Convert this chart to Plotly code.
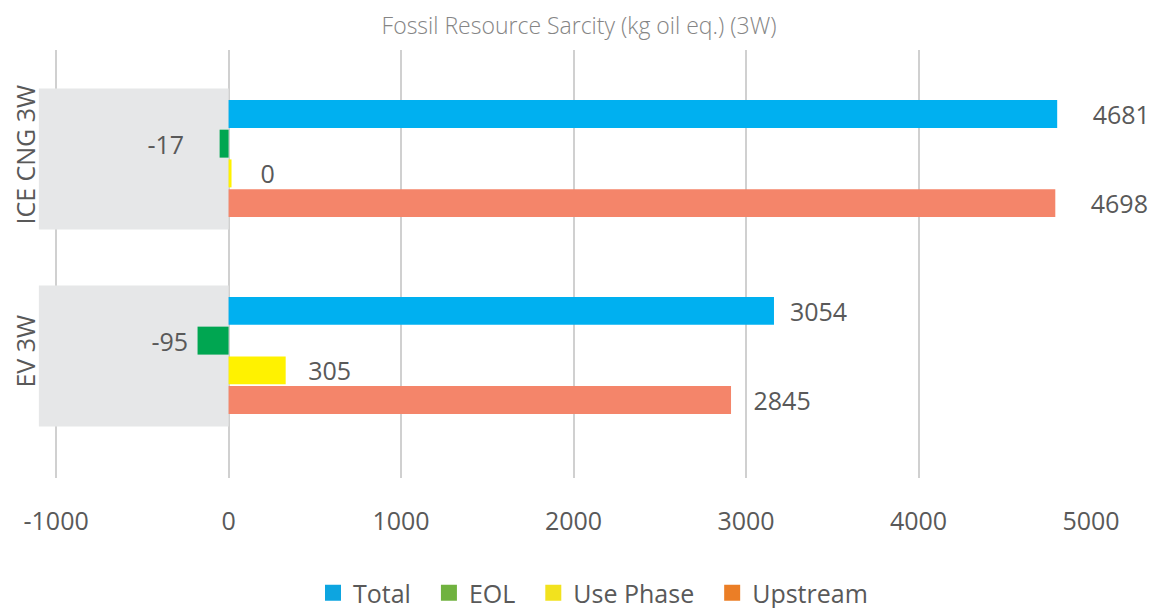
import plotly.graph_objects as go

# ---- data ----
categories = ["EV 3W", "ICE CNG 3W"]          # bottom -> top
series = ["Total", "EOL", "Use Phase", "Upstream"]
# bar lengths as drawn in the picture (kg oil eq.)
total_vals = [3162, 4804]
eol_vals = [-180, -52]
use_vals = [331, 17]
upstream_vals = [2913, 4793]
# data labels as printed on the picture
total_labels = ["3054", "4681"]
eol_labels = ["-95", "-17"]
use_labels = ["305", "0"]
upstream_labels = ["2845", "4698"]
x_ticks = [-1000, 0, 1000, 2000, 3000, 4000, 5000]

bar_colors = {"Total": "#00B0F0", "EOL": "#00A651", "Use Phase": "#FFF200", "Upstream": "#F4856A"}
legend_colors = {"Total": "#0DA5E0", "EOL": "#70B23F", "Use Phase": "#F2E21E", "Upstream": "#EB7E26"}
values = {"Total": total_vals, "EOL": eol_vals, "Use Phase": use_vals, "Upstream": upstream_vals}
labels = {"Total": total_labels, "EOL": eol_labels, "Use Phase": use_labels, "Upstream": upstream_labels}
# label padding (non-breaking spaces) per bar, per category
pads = {"Total": [2, 5], "EOL": [1, 5], "Use Phase": [3, 4], "Upstream": [3, 5]}

NB = "\u00a0"
FONT = "Open Sans, Segoe UI, Arial, sans-serif"
TXT = "#595959"

# the page body adds an 8px offset; layout values below compensate for it
W, H = 1164, 608
OFF = 8
L, R, T, B = 38 - OFF, 73 + OFF, 50 - OFF, 130 + OFF
PLOT_W = W - L - R

fig = go.Figure()

# grey band behind each category on the negative side
for i, _ in enumerate(categories):
    fig.add_shape(type="rect", xref="x", yref="y", x0=-1100, x1=0,
                  y0=i - 0.36, y1=i + 0.355, fillcolor="#E6E7E8",
                  line=dict(width=0), layer="between")

# category labels, rotated, left of the grey bands
for i, c in enumerate(categories):
    fig.add_annotation(text=c, xref="paper", yref="y", x=(25 - OFF - L) / PLOT_W, y=i + 0.02,
                       xanchor="center", yanchor="middle", textangle=-90, showarrow=False,
                       font=dict(family=FONT, size=25, color=TXT))

# bars: added bottom-to-top so that Total sits on top of each group
for s in reversed(series):
    txt = []
    for v, lab, p in zip(values[s], labels[s], pads[s]):
        txt.append(lab + NB * p if v < 0 else NB * p + lab)
    fig.add_trace(go.Bar(
        y=categories, x=values[s], orientation="h", name=s,
        marker=dict(color=bar_colors[s], line=dict(width=0)),
        text=txt, textposition="outside", constraintext="none",
        textfont=dict(family=FONT, size=25, color=TXT),
        cliponaxis=False, showlegend=False, hoverinfo="x+name"))

# legend entries
legend_pad = {"Total": 2, "EOL": 2, "Use Phase": 2, "Upstream": 0}
for s in series:
    fig.add_trace(go.Scatter(
        x=[None], y=[None], mode="markers", name=s + NB * legend_pad[s],
        marker=dict(symbol="square", size=17, color=legend_colors[s]),
        showlegend=True))

fig.update_layout(
    width=W, height=H,
    paper_bgcolor="white", plot_bgcolor="white",
    margin=dict(l=L, r=R, t=T, b=B, autoexpand=False),
    barmode="group", bargap=0.396, bargroupgap=0.06,
    title=dict(text="Fossil Resource Sarcity (kg oil eq.) (3W)",
               x=(579 - OFF) / W, xref="container", xanchor="center",
               y=1 - (26 - OFF) / H, yref="container", yanchor="middle",
               font=dict(family=FONT, size=23, color="#858585", weight=300)),
    font=dict(family=FONT, color=TXT),
    legend=dict(orientation="h", x=(593 - OFF) / W, xanchor="center", xref="container",
                y=1 - (593 - OFF) / H, yref="container", yanchor="middle",
                font=dict(family=FONT, size=25, color=TXT),
                traceorder="normal", itemwidth=30),
    xaxis=dict(range=[-1105, 5000], tickvals=x_ticks,
               ticktext=[str(t) for t in x_ticks],
               showgrid=True, gridcolor="#D0D0D0", gridwidth=1.5,
               zeroline=True, zerolinecolor="#D0D0D0", zerolinewidth=1.5,
               showline=False, ticks="outside", ticklen=21, tickcolor="rgba(0,0,0,0)",
               tickfont=dict(family=FONT, size=25, color=TXT), fixedrange=True),
    yaxis=dict(type="category", categoryorder="array", categoryarray=categories,
               range=[-0.622, 1.551], showgrid=False, zeroline=False, showline=False,
               showticklabels=False, ticks="", fixedrange=True),
)

fig.write_html("out.html")
